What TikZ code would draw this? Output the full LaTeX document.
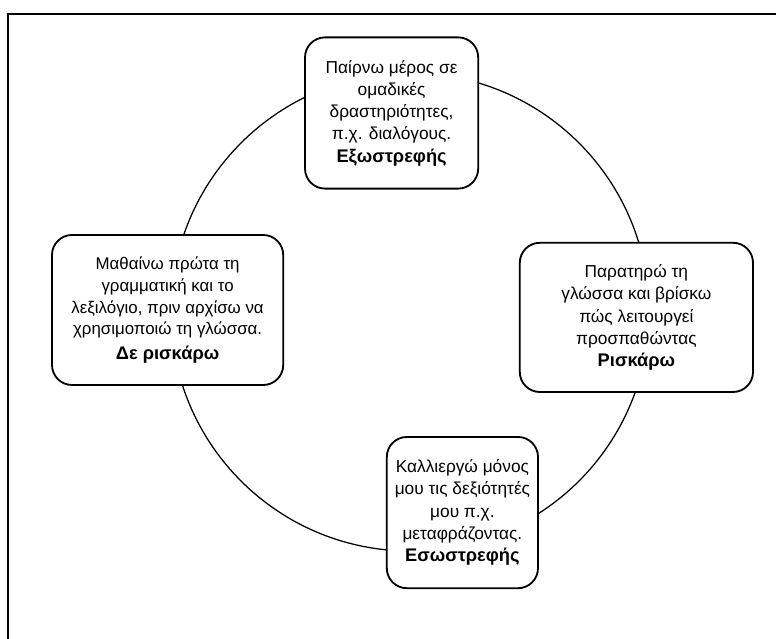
\documentclass[tikz,border=0pt]{standalone}
\usepackage{fontspec}
\setmainfont{Liberation Sans}
\usepackage{tikz}

\newcommand{\stagename}[1]{{\fontsize{13}{16}\selectfont\bfseries #1}}

\tikzset{
	stage/.style={draw, line width=1.3pt, rounded corners=0.5cm, fill=white, align=center, inner sep=0pt,
		font=\fontsize{12.3}{15.8}\selectfont},
}

\begin{document}
\begin{tikzpicture}
				
				\useasboundingbox (0,0) rectangle (19.4,15.975);
				\draw[line width=1.1pt] (0.2,0) -- (0.2,15.625) -- (19.4,15.625);
				\coordinate (centre) at (10.25,8.175);
				\draw[line width=0.9pt] (centre) circle (5.975);
				\node[stage, minimum width=4.33cm, minimum height=3.78cm] (extro) at (9.79,13.15)
					{Παίρνω μέρος σε\\ ομαδικές\\ δραστηριότητες,\\ π.χ. διαλόγους.\\ \stagename{Εξωστρεφής}};
				\node[stage, minimum width=5.78cm, minimum height=3.75cm, font=\fontsize{12}{15.4}\selectfont] (norisk) at (4.19,8.225)
					{Μαθαίνω πρώτα τη\\ γραμματική και το\\ λεξιλόγιο, πριν αρχίσω να\\ χρησιμοποιώ τη γλώσσα.\\[2pt] \stagename{Δε ρισκάρω}};
				\node[stage, minimum width=5.83cm, minimum height=3.73cm] (risk) at (15.91,8.04)
					{Παρατηρώ τη\\ γλώσσα και βρίσκω\\ πώς λειτουργεί\\ προσπαθώντας\\ \stagename{Ρισκάρω}};
				\node[stage, minimum width=3.78cm, minimum height=3.78cm] (intro) at (11.56,3.16)
					{Καλλιεργώ μόνος\\ μου τις δεξιότητές\\ μου π.χ.\\ μεταφράζοντας.\\ \stagename{Εσωστρεφής}};
			\end{tikzpicture}
\end{document}
